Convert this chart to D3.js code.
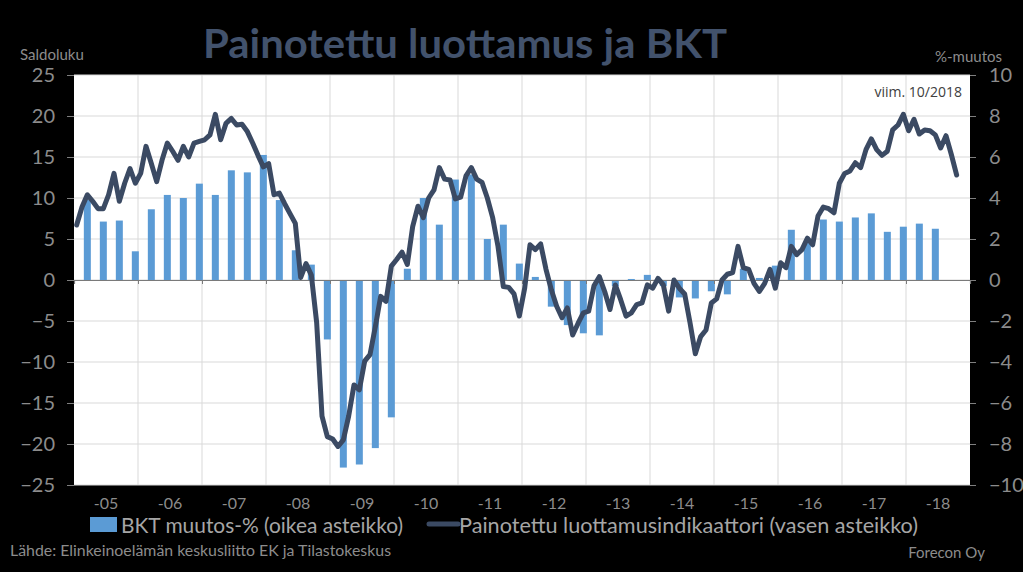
<!DOCTYPE html>
<html><head><meta charset="utf-8">
<script src="https://cdn.jsdelivr.net/npm/d3@7"></script>
<style>
html,body{margin:0;padding:0;background:#000;}
svg{display:block;}
</style></head>
<body>
<svg id="c" width="1023" height="572"></svg>
<script>
// ---- DATA ----
const yearLabels = ["-05","-06","-07","-08","-09","-10","-11","-12","-13","-14","-15","-16","-17","-18"];
const leftTicks = [25,20,15,10,5,0,-5,-10,-15,-20,-25];
const rightTicks = [10,8,6,4,2,0,-2,-4,-6,-8,-10];
// Painotettu luottamusindikaattori, monthly 1/2005 - 10/2018 (left axis)
const confidence = [
  6.7, 8.9, 10.4, 9.6, 8.7, 8.7, 10.4, 13.0, 9.6, 11.8, 13.6, 11.8,
  13.0, 16.3, 14.2, 12.0, 14.6, 16.7, 15.7, 14.6, 16.3, 15.0, 16.7, 16.9,
  17.1, 17.7, 20.2, 17.1, 19.1, 19.7, 18.9, 19.0, 18.1, 16.7, 15.2, 13.8,
  14.2, 10.4, 10.6, 9.3, 8.1, 6.9, 0.3, 2.0, 0.6, -5.2, -16.6, -19.1,
  -19.4, -20.3, -19.5, -16.6, -12.8, -13.4, -9.9, -9.1, -5.7, -2.0, -2.6, 1.7,
  2.5, 3.4, 1.9, 6.5, 9.0, 7.6, 10.0, 11.0, 13.7, 12.3, 12.2, 9.9,
  10.1, 12.7, 13.7, 12.3, 11.9, 10.0, 7.6, 4.1, -0.8, -0.9, -1.7, -4.4,
  -1.0, 4.3, 3.7, 4.4, 1.3, -1.2, -3.2, -4.6, -3.4, -6.7, -5.3, -4.0,
  -3.8, -0.7, 0.4, -1.4, -3.6, -0.6, -2.4, -4.4, -4.0, -3.0, -2.8, -0.6,
  -1.0, 0.2, -0.6, -3.8, 0.0, -1.0, -1.7, -5.2, -9.0, -6.9, -6.1, -2.8,
  -2.3, 0.0, 0.7, 0.9, 4.1, 1.5, 1.3, -0.4, -1.4, -0.4, 1.3, -1.0,
  2.1, 1.5, 4.1, 3.1, 3.7, 5.1, 4.3, 7.8, 8.9, 8.7, 8.2, 11.8,
  13.0, 13.3, 14.3, 13.7, 15.9, 17.2, 15.9, 15.2, 15.7, 18.3, 18.9, 20.2,
  18.2, 19.6, 17.8, 18.3, 18.2, 17.7, 16.1, 17.6, 15.3, 12.8
];
// BKT muutos-%, quarterly 2005Q1 - 2018Q2 (right axis)
const gdp = [
  3.9, 2.85, 2.9, 1.4,
  3.45, 4.15, 4.0, 4.7,
  4.15, 5.35, 5.25, 6.1,
  3.9, 1.45, 0.75, -2.9,
  -9.15, -9.0, -8.2, -6.7,
  0.55, 4.0, 2.7, 4.9,
  5.15, 2.0, 2.7, 0.8,
  0.15, -1.3, -2.2, -2.6,
  -2.7, -0.3, 0.05, 0.25,
  -0.3, -0.85, -0.9, -0.55,
  -0.7, 0.55, 0.1, 0.7,
  2.45, 1.8, 2.95, 2.85,
  3.05, 3.25, 2.35, 2.6,
  2.75, 2.5
];

// ---- LAYOUT ----
const svg = d3.select("#c");
const L = 74, R = 970, T = 75, B = 485;
const nMonths = yearLabels.length * 12;
const x = d3.scaleLinear().domain([0, nMonths]).range([L, R]);
const yL = d3.scaleLinear().domain([-25, 25]).range([B, T]);
const yR = d3.scaleLinear().domain([-10, 10]).range([B, T]);
const narrow = "'Liberation Sans Narrow',Lato,sans-serif";
const gray = "#8c8c8c";

svg.append("rect").attr("width",1023).attr("height",572).attr("fill","#000");
svg.append("rect").attr("x",L).attr("y",T).attr("width",R-L).attr("height",B-T).attr("fill","#fff");

// gridlines
svg.append("g").selectAll("line").data(leftTicks).join("line")
  .attr("x1",L).attr("x2",R).attr("y1",d=>yL(d)).attr("y2",d=>yL(d))
  .attr("stroke","#d9d9d9").attr("stroke-width",1);
svg.append("g").selectAll("line").data(d3.range(1, yearLabels.length)).join("line")
  .attr("x1",d=>x(d*12)).attr("x2",d=>x(d*12)).attr("y1",T).attr("y2",B)
  .attr("stroke","#d9d9d9").attr("stroke-width",1);

// left axis
const gl = svg.append("g").attr("transform",`translate(${L},0)`)
  .call(d3.axisLeft(yL).tickValues(leftTicks).tickSize(7).tickPadding(12));
gl.select(".domain").remove();
gl.selectAll("line").attr("stroke","#7f7f7f");
gl.selectAll("text").attr("fill",gray).attr("font-family",narrow).attr("font-weight","normal").attr("font-size",20);

// right axis
const gr = svg.append("g").attr("transform",`translate(${R},0)`)
  .call(d3.axisRight(yR).tickValues(rightTicks).tickSize(6).tickPadding(13));
gr.select(".domain").remove();
gr.selectAll("line").attr("stroke","#7f7f7f");
gr.selectAll("text").attr("fill",gray).attr("font-family",narrow).attr("font-weight","normal").attr("font-size",20);

// bars
const bw = 7;
svg.append("g").selectAll("rect").data(gdp).join("rect")
  .attr("x",(d,i)=>x(i*3+2.5)-bw/2)
  .attr("width",bw)
  .attr("y",d=>yR(Math.max(0,d)))
  .attr("height",d=>Math.abs(yR(d)-yR(0)))
  .attr("fill","#5b9bd5");

// zero axis
const gx = svg.append("g").attr("transform",`translate(0,${yL(0)})`)
  .call(d3.axisBottom(x).tickValues(d3.range(1, yearLabels.length).map(d=>d*12)).tickSize(4).tickFormat(""));
gx.select(".domain").attr("stroke","#7a7a7a").attr("stroke-width",1.2);
gx.selectAll("line").attr("stroke","#7a7a7a");

// year labels at bottom
svg.append("g").selectAll("text").data(yearLabels).join("text")
  .attr("x",(d,i)=>x(i*12+6)).attr("y",509)
  .attr("text-anchor","middle").attr("fill",gray)
  .attr("font-family",narrow).attr("font-weight","normal").attr("font-size",16).text(d=>d);

// line
const line = d3.line().x((d,i)=>x(i+0.5)).y(d=>yL(d)).curve(d3.curveLinear);
svg.append("path").datum(confidence).attr("d",line)
  .attr("fill","none").attr("stroke","#3b4a63").attr("stroke-width",5)
  .attr("stroke-linejoin","round").attr("stroke-linecap","round");

// texts
svg.append("text").attr("x",465).attr("y",58).attr("text-anchor","middle")
  .attr("font-family","Lato,'Open Sans',sans-serif").attr("font-weight","bold")
  .attr("font-size",41).attr("fill","#42526c")
  .attr("textLength",524).attr("lengthAdjust","spacingAndGlyphs")
  .text("Painotettu luottamus ja BKT");
svg.append("text").attr("x",20).attr("y",60).attr("font-family",narrow).attr("font-weight","normal")
  .attr("font-size",15).attr("fill",gray).text("Saldoluku");
svg.append("text").attr("x",935).attr("y",62).attr("font-family",narrow).attr("font-weight","normal")
  .attr("font-size",15).attr("fill",gray).text("%-muutos");
svg.append("text").attr("x",962).attr("y",97).attr("text-anchor","end")
  .attr("font-family","'Open Sans',Lato,sans-serif").attr("font-size",14).attr("fill","#404040")
  .text("viim. 10/2018");

// legend
svg.append("rect").attr("x",90).attr("y",517).attr("width",27).attr("height",15).attr("fill","#5b9bd5");
svg.append("text").attr("x",121).attr("y",533).attr("font-family",narrow).attr("font-weight","normal").attr("font-size",21)
  .attr("fill","#a6a6a6").attr("textLength",282).attr("lengthAdjust","spacingAndGlyphs")
  .text("BKT muutos-% (oikea asteikko)");
svg.append("line").attr("x1",429).attr("x2",458).attr("y1",524).attr("y2",524)
  .attr("stroke","#3b4a63").attr("stroke-width",5).attr("stroke-linecap","round");
svg.append("text").attr("x",459).attr("y",533).attr("font-family",narrow).attr("font-weight","normal").attr("font-size",21)
  .attr("fill","#a6a6a6").attr("textLength",459).attr("lengthAdjust","spacingAndGlyphs")
  .text("Painotettu luottamusindikaattori (vasen asteikko)");

svg.append("text").attr("x",10).attr("y",556).attr("font-family",narrow).attr("font-weight","normal").attr("font-size",15)
  .attr("fill",gray).attr("textLength",381).attr("lengthAdjust","spacingAndGlyphs")
  .text("Lähde: Elinkeinoelämän  keskusliitto EK ja Tilastokeskus");
svg.append("text").attr("x",985).attr("y",558).attr("text-anchor","end").attr("font-family",narrow).attr("font-weight","normal")
  .attr("font-size",15).attr("fill",gray).text("Forecon Oy");
</script>
</body></html>
